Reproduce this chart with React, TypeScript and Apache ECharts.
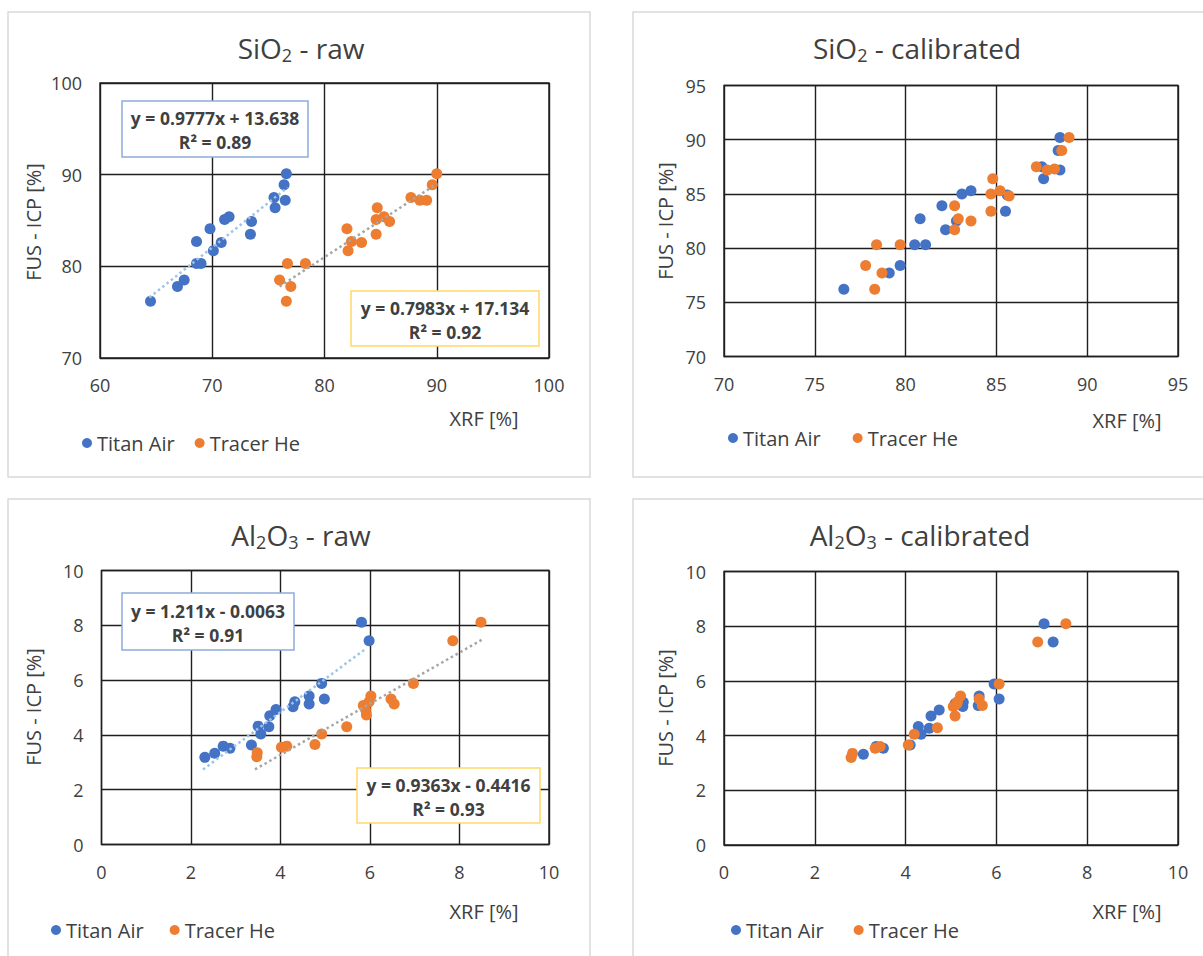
import React, { useEffect, useRef } from "react";
import * as echarts from "echarts";

const FONT = "'Open Sans', 'Noto Sans', sans-serif";
const TXT = "#404040";
const BLUE = "#4472c4";
const ORANGE = "#ed7d31";

// ---- data ----
const siRawTitan = [[64.5,76.2],[66.9,77.8],[67.5,78.5],[68.6,82.7],[68.6,80.3],[69.0,80.3],[69.8,84.1],[70.1,81.7],[70.8,82.6],[71.1,85.1],[71.5,85.4],[73.4,83.5],[73.5,84.9],[75.5,87.5],[75.6,86.4],[76.5,87.2],[76.4,88.9],[76.6,90.1]];
const siRawTracer = [[76.0,78.5],[76.6,76.2],[77.0,77.8],[76.7,80.3],[78.3,80.3],[82.0,84.1],[82.1,81.7],[82.4,82.7],[83.3,82.6],[84.6,83.5],[84.7,86.4],[84.6,85.1],[85.3,85.4],[85.8,84.9],[87.7,87.5],[88.5,87.2],[89.1,87.2],[89.6,88.9],[90.0,90.1]];
const siCalTitan = [[76.6,76.2],[79.1,77.7],[79.7,78.4],[80.5,80.3],[81.1,80.3],[80.8,82.7],[82.0,83.9],[82.2,81.7],[82.8,82.5],[83.1,85.0],[83.6,85.3],[85.5,83.4],[85.6,84.9],[87.5,87.5],[87.6,86.4],[88.5,87.2],[88.4,89.0],[88.5,90.2]];
const siCalTracer = [[78.3,76.2],[77.8,78.4],[78.7,77.7],[78.4,80.3],[79.7,80.3],[82.7,83.9],[82.7,81.7],[82.9,82.7],[83.6,82.5],[84.7,83.4],[84.8,86.4],[84.7,85.0],[85.2,85.3],[85.7,84.8],[87.2,87.5],[87.8,87.2],[88.2,87.3],[88.6,89.0],[89.0,90.2]];
const alRawTitan = [[2.31,3.18],[2.53,3.33],[2.72,3.59],[2.87,3.51],[3.35,3.63],[3.5,4.32],[3.56,4.03],[3.74,4.3],[3.76,4.7],[3.9,4.93],[4.28,5.03],[4.32,5.21],[4.64,5.13],[4.64,5.42],[4.98,5.31],[4.92,5.88],[5.81,8.11],[5.98,7.44]];
const alRawTracer = [[3.48,3.35],[3.47,3.2],[4.02,3.55],[4.14,3.59],[4.77,3.65],[4.92,4.03],[5.48,4.3],[5.85,5.07],[5.92,4.73],[5.9,4.93],[6.02,5.42],[5.98,5.21],[6.47,5.31],[6.54,5.13],[6.97,5.88],[7.85,7.44],[8.48,8.11]];
const alCalTitan = [[3.07,3.32],[3.35,3.6],[3.51,3.54],[4.1,3.66],[4.28,4.33],[4.34,4.05],[4.52,4.27],[4.56,4.72],[4.74,4.94],[5.09,5.16],[5.26,5.06],[5.27,5.22],[5.6,5.1],[5.62,5.45],[6.06,5.34],[5.95,5.89],[7.05,8.09],[7.25,7.42]];
const alCalTracer = [[2.8,3.2],[2.83,3.35],[3.33,3.54],[3.44,3.6],[4.06,3.66],[4.19,4.05],[4.7,4.29],[5.05,5.06],[5.09,4.72],[5.13,5.16],[5.21,5.45],[5.14,5.24],[5.62,5.34],[5.69,5.1],[6.06,5.89],[6.91,7.42],[7.53,8.09]];

// trendline end points as seen in the picture
const siRawTitanTrend = [[64.4,76.6],[76.7,88.6]];
const siRawTracerTrend = [[76.0,77.8],[90.0,89.0]];
const alRawTitanTrend = [[2.27,2.74],[5.92,7.16]];
const alRawTracerTrend = [[3.43,2.74],[8.53,7.5]];

const seriesNames = ["Titan Air", "Tracer He"];
const titles = [
  ["SiO", "2", " - raw"],
  ["SiO", "2", " - calibrated"],
  ["Al", "2", "O", "3", " - raw"],
  ["Al", "2", "O", "3", " - calibrated"],
];
const equations = [
  "y = 0.9777x + 13.638\nR² = 0.89",
  "y = 0.7983x + 17.134\nR² = 0.92",
  "y = 1.211x - 0.0063\nR² = 0.91",
  "y = 0.9363x - 0.4416\nR² = 0.93",
];
const xAxisName = "XRF [%]";
const yAxisName = "FUS - ICP [%]";

const axisRanges = [
  { xmin: 60, xmax: 100, xint: 10, ymin: 70, ymax: 100, yint: 10 },
  { xmin: 70, xmax: 95, xint: 5, ymin: 70, ymax: 95, yint: 5 },
  { xmin: 0, xmax: 10, xint: 2, ymin: 0, ymax: 10, yint: 2 },
  { xmin: 0, xmax: 10, xint: 2, ymin: 0, ymax: 10, yint: 2 },
];

const grids = [
  { left: 100, top: 83, width: 449, height: 275 },
  { left: 724, top: 85.5, width: 454, height: 271 },
  { left: 101.5, top: 570.5, width: 447.5, height: 274 },
  { left: 724, top: 571.5, width: 454, height: 273.5 },
];

export default function App() {
  const ref = useRef<HTMLDivElement>(null);
  useEffect(() => {
    if (!ref.current) return;
    const chart = echarts.init(ref.current, null, { renderer: "svg" });

    const gridLine = { color: "#1f1f1f", width: 1.4 };
    const xAxis = axisRanges.map((r, i) => ({
      gridIndex: i, type: "value", min: r.xmin, max: r.xmax, interval: r.xint,
      axisLine: { show: false }, axisTick: { show: false },
      splitLine: { show: true, lineStyle: gridLine },
      axisLabel: { color: TXT, fontSize: 18, fontFamily: FONT, margin: 18 },
    }));
    const yAxis = axisRanges.map((r, i) => ({
      gridIndex: i, type: "value", min: r.ymin, max: r.ymax, interval: r.yint,
      axisLine: { show: false }, axisTick: { show: false },
      splitLine: { show: true, lineStyle: gridLine },
      axisLabel: { color: TXT, fontSize: 18, fontFamily: FONT, margin: 18 },
    }));

    const scatter = (name: string, data: number[][], idx: number, color: string) => ({
      name, type: "scatter", xAxisIndex: idx, yAxisIndex: idx, data,
      symbolSize: 11, itemStyle: { color, opacity: 1 }, z: 3,
    });
    const trend = (data: number[][], idx: number, color: string) => ({
      name: "trend", type: "line", xAxisIndex: idx, yAxisIndex: idx, data,
      showSymbol: false, symbol: "none", silent: true,
      lineStyle: { color, width: 2.5, type: [2.5, 3] }, z: 4,
    });

    const series = [
      scatter(seriesNames[0], siRawTitan, 0, BLUE),
      scatter(seriesNames[1], siRawTracer, 0, ORANGE),
      trend(siRawTitanTrend, 0, "#9dc3e6"),
      trend(siRawTracerTrend, 0, "#a5a5a5"),
      scatter(seriesNames[0], siCalTitan, 1, BLUE),
      scatter(seriesNames[1], siCalTracer, 1, ORANGE),
      scatter(seriesNames[0], alRawTitan, 2, BLUE),
      scatter(seriesNames[1], alRawTracer, 2, ORANGE),
      trend(alRawTitanTrend, 2, "#9dc3e6"),
      trend(alRawTracerTrend, 2, "#a5a5a5"),
      scatter(seriesNames[0], alCalTitan, 3, BLUE),
      scatter(seriesNames[1], alCalTracer, 3, ORANGE),
    ];

    const legendPos = [
      { left: 77, top: 428, itemGap: 20 },
      { left: 723, top: 423, itemGap: 32 },
      { left: 46, top: 915, itemGap: 26 },
      { left: 726, top: 915, itemGap: 30 },
    ];
    const legend = legendPos.map((p) => ({
      data: seriesNames, left: p.left, top: p.top, itemGap: p.itemGap,
      icon: "circle", itemWidth: 10, itemHeight: 10,
      textStyle: { color: TXT, fontSize: 20, fontFamily: FONT },
      selectedMode: false,
    }));

    // panel frames
    const frames = [
      { x: 8, y: 12, width: 582, height: 465 },
      { x: 633, y: 12, width: 600, height: 465 },
      { x: 8, y: 499, width: 582, height: 480 },
      { x: 633, y: 499, width: 600, height: 480 },
    ].map((s) => ({
      type: "rect", shape: s, z: -10, silent: true,
      style: { fill: "#fff", stroke: "#d9d9d9", lineWidth: 1.5 },
    }));

    const titlePos = [[301, 48], [917, 48], [301, 535], [920, 535]];
    const titleEls = titles.map((parts, i) => {
      const txt = parts.map((p, k) => (k % 2 === 1 ? `{s|${p}}` : `{a|${p}}`)).join("");
      return {
        type: "text", x: titlePos[i][0], y: titlePos[i][1], z: 10,
        style: {
          text: txt, align: "center", verticalAlign: "middle",
          rich: {
            a: { fontSize: 28, fontFamily: FONT, fill: TXT, lineHeight: 32, verticalAlign: "middle" },
            s: { fontSize: 18, fontFamily: FONT, fill: TXT, lineHeight: 15, verticalAlign: "bottom" },
          },
        },
      };
    });

    const xNamePos = [[484, 418], [1127, 420], [484, 911], [1127, 911]];
    const xNames = xNamePos.map((p) => ({
      type: "text", x: p[0], y: p[1], z: 10,
      style: { text: xAxisName, align: "center", verticalAlign: "middle", font: `20px ${FONT}`, fill: TXT },
    }));
    const yNamePos = [[33, 222], [665, 221], [33, 707], [665, 708]];
    const yNames = yNamePos.map((p) => ({
      type: "text", x: p[0], y: p[1], rotation: Math.PI / 2, z: 10,
      style: { text: yAxisName, align: "center", verticalAlign: "middle", font: `20px ${FONT}`, fill: TXT },
    }));

    const boxes = [
      { x: 122, y: 101, w: 186, h: 56, c: "#8faadc" },
      { x: 351, y: 291, w: 188, h: 55, c: "#ffd966" },
      { x: 122, y: 593, w: 172, h: 57, c: "#8faadc" },
      { x: 357, y: 768, w: 183, h: 55, c: "#ffd966" },
    ];
    const boxEls: any[] = [];
    boxes.forEach((b, i) => {
      boxEls.push({
        type: "rect", z: 50, shape: { x: b.x, y: b.y, width: b.w, height: b.h },
        style: { fill: "#fff", stroke: b.c, lineWidth: 1.5 },
      });
      boxEls.push({
        type: "text", z: 51, x: b.x + b.w / 2, y: b.y + b.h / 2 + 1,
        style: {
          text: equations[i], align: "center", verticalAlign: "middle",
          font: `bold 17.5px ${FONT}`, lineHeight: 24, fill: TXT,
        },
      });
    });

    chart.setOption({
      animation: false,
      backgroundColor: "#fff",
      grid: grids.map((g) => ({ ...g, show: true, borderColor: "#1f1f1f", borderWidth: 1.4, containLabel: false })),
      xAxis, yAxis, series, legend,
      graphic: [...frames, ...titleEls, ...xNames, ...yNames, ...boxEls],
    });
    return () => chart.dispose();
  }, []);
  return <div ref={ref} style={{ position: "absolute", left: 0, top: 0, width: 1203, height: 956 }} />;
}
